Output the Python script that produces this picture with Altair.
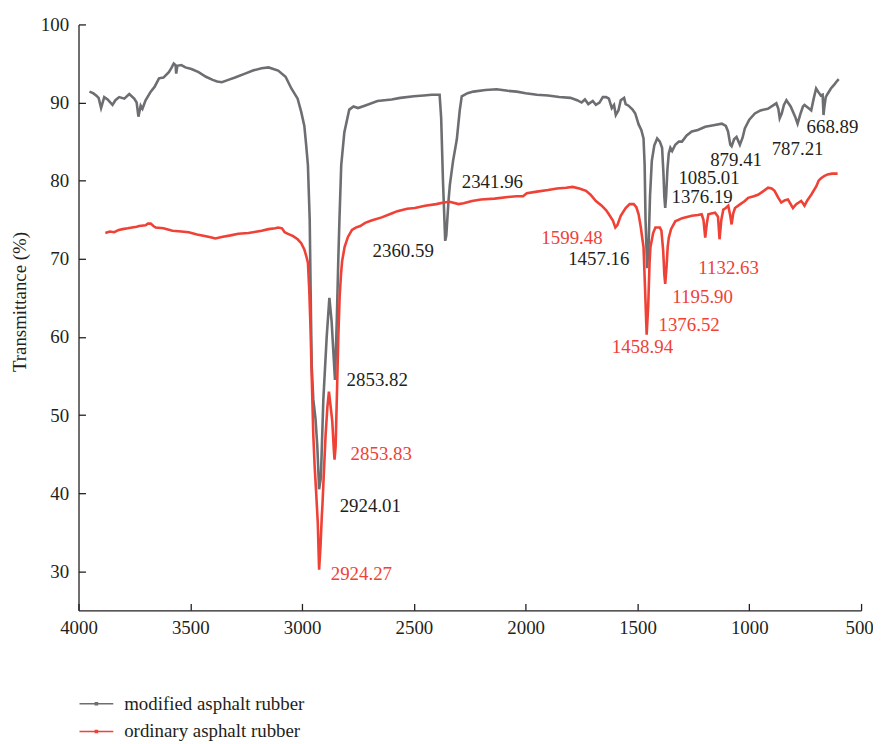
import altair as alt
import pandas as pd

FONT = "Liberation Serif"
INK = "#231f20"
GRAY = "#6d6e71"
RED = "#ef4136"

series_names = ["modified asphalt rubber", "ordinary asphalt rubber"]
series_colors = [GRAY, RED]

# modified asphalt rubber (grey)
mod_wn = [3951, 3935, 3921, 3910, 3899, 3885, 3870, 3848, 3835, 3818, 3795, 3773, 3751, 3740, 3732, 3722,
          3714, 3700, 3677, 3660, 3640, 3620, 3596, 3585, 3574, 3566, 3563, 3558, 3540, 3522, 3495, 3463,
          3430, 3400, 3380, 3359, 3330, 3300, 3255, 3220, 3181, 3150, 3107, 3074, 3048, 3020, 3004, 2990,
          2982, 2974, 2966, 2960, 2957, 2950, 2940, 2932, 2924, 2916, 2905, 2890, 2878, 2868, 2860, 2853,
          2845, 2838, 2833, 2825, 2811, 2789, 2770, 2750, 2720, 2663, 2600, 2561, 2500, 2456, 2420, 2385,
          2378, 2370, 2360, 2355, 2345, 2339, 2325, 2308, 2295, 2286, 2260, 2234, 2180, 2130, 2080, 2040,
          2000, 1950, 1900, 1850, 1800, 1770, 1750, 1735, 1720, 1700, 1686, 1670, 1655, 1640, 1628, 1615,
          1605, 1597, 1585, 1575, 1560, 1553, 1540, 1522, 1510, 1495, 1483, 1473, 1468, 1464, 1457, 1450,
          1444, 1436, 1425, 1412, 1400, 1390, 1384, 1380, 1376, 1372, 1366, 1360, 1353, 1345, 1331, 1315,
          1301, 1280, 1257, 1230, 1197, 1160, 1123, 1105, 1095, 1085, 1079, 1068, 1057, 1048, 1042, 1030,
          1020, 1000, 975, 950, 917, 895, 879, 870, 864, 855, 845, 834, 815, 795, 784, 772,
          760, 753, 740, 723, 712, 701, 690, 680, 672, 668, 664, 658, 650, 635, 620, 612, 600]
mod_t = [91.4, 91.2, 90.9, 90.6, 89.3, 90.7, 90.4, 89.7, 90.3, 90.7, 90.5, 91.1, 90.5, 90.0, 88.2, 89.6,
         89.2, 90.3, 91.4, 92.0, 93.1, 93.2, 93.9, 94.4, 95.0, 94.8, 93.7, 94.7, 94.8, 94.5, 94.3, 93.9,
         93.3, 92.9, 92.7, 92.6, 92.9, 93.2, 93.7, 94.1, 94.4, 94.5, 94.1, 93.3, 91.8, 90.5, 88.8, 87.0,
         84.6, 82.0, 75.0, 62.0, 56.3, 52.0, 49.5, 46.0, 40.5, 42.0, 52.0, 60.0, 65.0, 62.0, 58.0, 54.5,
         62.0, 70.0, 75.0, 82.0, 86.2, 89.1, 89.5, 89.3, 89.6, 90.2, 90.4, 90.6, 90.8, 90.9, 91.0, 91.0,
         88.0, 80.0, 72.3, 73.0, 77.5, 79.5, 82.5, 85.3, 89.0, 90.8, 91.2, 91.4, 91.6, 91.7, 91.5, 91.4,
         91.2, 91.0, 90.9, 90.7, 90.6, 90.3, 90.0, 90.4, 89.8, 90.2, 89.7, 90.0, 90.7, 90.7, 90.5, 89.3,
         89.7, 88.4, 89.0, 90.3, 90.6, 89.8, 89.6, 89.1, 88.6, 87.2, 86.5, 85.4, 82.0, 75.0, 68.8, 72.0,
         78.0, 82.5, 84.5, 85.4, 85.0, 84.2, 81.0, 78.0, 76.5, 78.0, 81.5, 83.5, 84.2, 83.8, 84.6, 85.0,
         85.0, 85.8, 86.3, 86.5, 86.9, 87.1, 87.3, 87.0, 86.3, 84.6, 84.4, 85.3, 85.6, 85.0, 84.6, 85.5,
         86.7, 87.8, 88.6, 89.0, 89.2, 89.6, 89.9, 89.2, 88.0, 88.6, 89.7, 90.3, 89.5, 88.2, 87.3, 88.5,
         89.5, 89.7, 89.4, 89.0, 90.5, 91.8, 91.3, 90.9, 91.0, 88.4, 89.5, 90.7, 91.1, 91.8, 92.3, 92.6, 93.0]

# ordinary asphalt rubber (red)
ord_wn = [3880, 3860, 3840, 3820, 3803, 3780, 3760, 3740, 3729, 3700, 3690, 3677, 3665, 3655, 3620, 3580,
          3540, 3507, 3470, 3430, 3400, 3388, 3360, 3320, 3285, 3240, 3200, 3181, 3150, 3120, 3107, 3090,
          3078, 3063, 3040, 3020, 3004, 2990, 2980, 2974, 2968, 2962, 2958, 2954, 2950, 2944, 2937, 2930,
          2924, 2918, 2912, 2909, 2902, 2895, 2887, 2880, 2872, 2865, 2858, 2855, 2850, 2843, 2838, 2832,
          2826, 2821, 2810, 2795, 2777, 2760, 2740, 2718, 2690, 2644, 2600, 2574, 2530, 2496, 2450, 2400,
          2367, 2340, 2300, 2278, 2240, 2200, 2139, 2080, 2040, 2012, 1995, 1950, 1900, 1860, 1819, 1790,
          1760, 1730, 1710, 1686, 1660, 1640, 1628, 1610, 1599, 1590, 1575, 1553, 1535, 1517, 1505, 1495,
          1485, 1478, 1473, 1466, 1459, 1452, 1446, 1442, 1430, 1420, 1412, 1400, 1393, 1385, 1380, 1376,
          1370, 1365, 1360, 1350, 1331, 1300, 1257, 1230, 1213, 1205, 1197, 1190, 1183, 1170, 1153, 1140,
          1133, 1125, 1116, 1105, 1094, 1085, 1079, 1072, 1064, 1040, 1020, 1005, 980, 961, 940, 916,
          900, 887, 870, 857, 840, 827, 815, 805, 790, 768, 760, 753, 740, 723, 700, 690,
          679, 665, 650, 630, 605]
ord_t = [73.3, 73.5, 73.4, 73.7, 73.8, 73.9, 74.0, 74.1, 74.2, 74.3, 74.5, 74.5, 74.2, 74.0, 73.9, 73.6,
         73.5, 73.4, 73.1, 72.9, 72.7, 72.6, 72.8, 73.0, 73.2, 73.3, 73.5, 73.6, 73.8, 73.9, 74.0, 73.9,
         73.4, 73.2, 72.9, 72.5, 72.0, 71.2, 70.2, 69.5, 66.0, 60.8, 56.0, 51.8, 47.5, 43.5, 40.0, 36.3,
         30.2, 33.0, 37.0, 38.5, 43.0, 47.4, 51.0, 53.0, 51.0, 49.2, 45.5, 44.3, 46.0, 54.1, 60.0, 65.2,
         68.0, 69.7, 71.5, 72.8, 73.7, 74.0, 74.2, 74.6, 74.9, 75.3, 75.8, 76.1, 76.4, 76.5, 76.8, 77.0,
         77.2, 77.3, 77.0, 77.1, 77.4, 77.6, 77.7, 77.9, 78.0, 78.0, 78.4, 78.6, 78.8, 79.0, 79.1, 79.2,
         79.0, 78.7, 78.2, 77.4, 76.8, 76.2, 75.7, 74.9, 74.0, 74.3, 75.5, 76.5, 77.0, 77.0, 76.6, 75.7,
         74.0, 72.5, 71.5, 66.0, 60.3, 64.0, 69.5, 71.5, 73.3, 74.0, 74.0, 74.0, 73.6, 71.0, 68.0, 66.8,
         69.0, 71.5, 72.7, 73.8, 74.8, 75.2, 75.5, 75.6, 75.7, 75.0, 72.7, 74.5, 75.7, 75.8, 75.9, 75.4,
         72.5, 75.0, 76.3, 76.5, 76.8, 75.5, 74.4, 75.8, 76.5, 77.0, 77.4, 77.8, 78.0, 78.2, 78.6, 79.1,
         79.0, 78.7, 77.8, 77.2, 77.5, 77.6, 77.0, 76.5, 77.0, 77.4, 77.1, 76.8, 77.5, 78.2, 79.3, 80.0,
         80.3, 80.6, 80.8, 80.9, 80.9]

# peak annotations
black_labels = ["2341.96", "2360.59", "2853.82", "2924.01", "1457.16", "1376.19", "1085.01", "879.41",
                "787.21", "668.89"]
black_wn = [2286, 2685, 2801, 2832, 1810, 1348, 1317, 1175, 900, 744]
black_t = [79.8, 71.0, 54.5, 38.3, 70.0, 77.9, 80.3, 82.6, 84.0, 86.9]

red_labels = ["2853.83", "2924.27", "1599.48", "1132.63", "1195.90", "1376.52", "1458.94"]
red_wn = [2783, 2872, 1930, 1228, 1344, 1406, 1615]
red_t = [45.0, 29.6, 72.6, 68.8, 65.1, 61.5, 58.7]

x_ticks = [4000, 3500, 3000, 2500, 2000, 1500, 1000, 500]
y_ticks = [30, 40, 50, 60, 70, 80, 90, 100]

df = pd.concat([
    pd.DataFrame({"wn": mod_wn, "t": mod_t, "series": series_names[0]}),
    pd.DataFrame({"wn": ord_wn, "t": ord_t, "series": series_names[1]}),
])
df_black = pd.DataFrame({"label": black_labels, "wn": black_wn, "t": black_t})
df_red = pd.DataFrame({"label": red_labels, "wn": red_wn, "t": red_t})

W, H = 788, 590
FS = 19

xscale = alt.Scale(domain=[500, 4000], reverse=True, nice=False, zero=False)
yscale = alt.Scale(domain=[25, 100], nice=False, zero=False)

lines = alt.Chart(df).mark_line(strokeWidth=2.6).encode(
    x=alt.X("wn:Q", scale=xscale,
            axis=alt.Axis(values=x_ticks, title="Wavenumber (cm⁻¹)", ticks=False, tickSize=0,
                          labelPadding=8, labelFlush=False, format="d",
                          labelOffset=alt.condition("datum.value == 500", alt.value(-2), alt.value(0)),
                          titleY=639, titleBaseline="middle", titleX=398)),
    y=alt.Y("t:Q", scale=yscale,
            axis=alt.Axis(values=y_ticks, title="Transmittance (%)", ticks=False, tickSize=0,
                          labelPadding=10, format="d",
                          titleX=-59, titleY=279, titleBaseline="middle", titleAlign="center")),
    color=alt.Color("series:N", scale=alt.Scale(domain=series_names, range=series_colors),
                    legend=alt.Legend(
                        title=None, orient="none", legendX=0, legendY=674, direction="vertical",
                        symbolType="M-1,0H1M-0.06,-0.06H0.06V0.06H-0.06Z",
                        symbolSize=1156, symbolStrokeWidth=1.6, clipHeight=20,
                        labelFont=FONT, labelFontSize=FS, labelColor=INK, labelOffset=10,
                        labelLimit=0, padding=0, rowPadding=8)),
)

black_text = alt.Chart(df_black).mark_text(
    align="left", baseline="middle", font=FONT, fontSize=FS, color=INK
).encode(
    x=alt.X("wn:Q", scale=xscale,
            axis=alt.Axis(orient="top", offset=-H, values=x_ticks, labels=False, domain=False,
                          title=None, ticks=True, tickSize=7, tickColor=INK, tickWidth=1.3)),
    y=alt.Y("t:Q", scale=yscale,
            axis=alt.Axis(orient="right", offset=-W, values=y_ticks, labels=False, domain=False,
                          title=None, ticks=True, tickSize=7, tickColor=INK, tickWidth=1.3)),
    text="label:N",
)

red_text = alt.Chart(df_red).mark_text(
    align="left", baseline="middle", font=FONT, fontSize=FS, color=RED
).encode(
    x=alt.X("wn:Q", scale=xscale, axis=None),
    y=alt.Y("t:Q", scale=yscale, axis=None),
    text="label:N",
)

chart = alt.layer(lines, black_text, red_text).resolve_axis(
    x="independent", y="independent"
).properties(
    width=W, height=H,
    autosize=alt.AutoSizeParams(type="none"),
    padding={"left": 71, "top": 14, "right": 12, "bottom": 130},
    background="white",
).configure_view(stroke=None).configure_axis(
    grid=False, labelFont=FONT, labelFontSize=FS, labelColor=INK,
    titleFont=FONT, titleFontSize=FS, titleColor=INK, titleFontWeight="normal",
    domainColor=INK, domainWidth=1.3,
)

chart.save("out.html", embed_options={"renderer": "svg", "actions": False})
